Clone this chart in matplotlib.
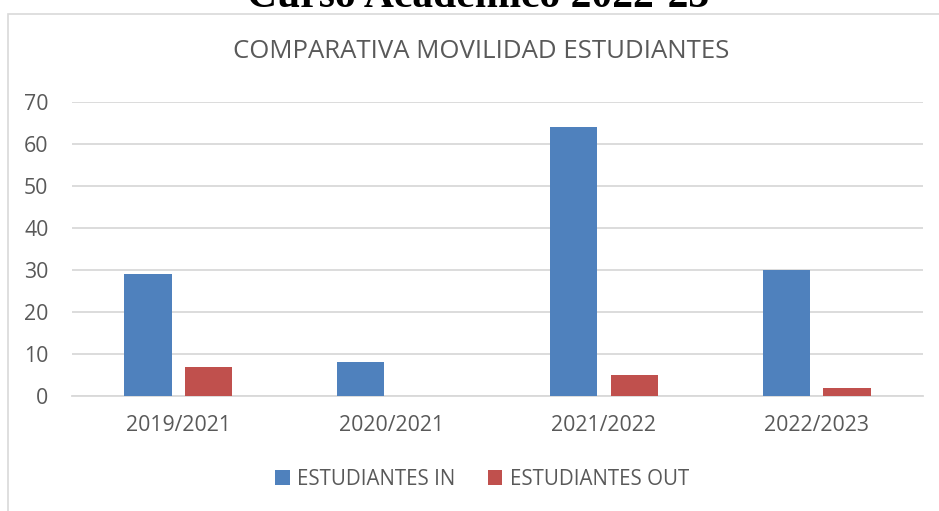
import matplotlib
matplotlib.use("Agg")
import matplotlib.pyplot as plt
import numpy as np
from matplotlib.patches import Rectangle

# data
cursos = ["2019/2021", "2020/2021", "2021/2022", "2022/2023"]
estudiantes_in = [29, 8, 64, 30]
estudiantes_out = [7, 0, 5, 2]

BLUE = "#4F81BD"
RED = "#C0504D"
GRID = "#D9D9D9"
TEXT = "#595959"
W, H = 939, 511

plt.rcParams["font.family"] = ["Open Sans", "DejaVu Sans"]

fig = plt.figure(figsize=(W / 100, H / 100), dpi=100)

# chart frame (bleeds off the right and bottom)
fig.patches.append(Rectangle((7.5 / W, -0.1), 1.0, 1 - 13.5 / H + 0.1,
                             transform=fig.transFigure, fill=False,
                             edgecolor=GRID, linewidth=1.2))

# header of the page, cut off at the top as in the source
fig.text(478 / W, 1 - 7 / H, "Curso Académico 2022-23", ha="center", va="baseline",
         family="Liberation Serif", weight="bold", fontsize=30, color="black")

ax = fig.add_axes([72 / W, 1 - 396 / H, (923 - 72) / W, (396 - 102) / H])
x = np.arange(len(cursos))
bw = 0.222
ax.bar(x - 0.143, estudiantes_in, bw, color=BLUE, label="ESTUDIANTES IN", zorder=3)
ax.bar(x + 0.143, estudiantes_out, bw, color=RED, label="ESTUDIANTES OUT", zorder=3)

ax.set_xlim(-0.5, len(cursos) - 0.5)
ax.set_ylim(0, 70)
ax.set_yticks(range(0, 71, 10))
ax.set_xticks(x)
ax.set_xticklabels(cursos)
ax.yaxis.grid(True, color=GRID, linewidth=1.3, zorder=0)
ax.set_axisbelow(True)
for s in ax.spines.values():
    s.set_visible(False)
ax.tick_params(length=0, labelsize=15.3, labelcolor=TEXT)
ax.tick_params(axis="y", pad=17)
ax.tick_params(axis="x", pad=14)
ax.axhline(0, color=GRID, linewidth=1.3, zorder=1, clip_on=False)

fig.text(481 / W, 1 - 52 / H, "COMPARATIVA MOVILIDAD ESTUDIANTES", ha="center", va="center",
         fontsize=18.5, color=TEXT)

fig.legend(loc="center", bbox_to_anchor=(482 / W, 1 - 479 / H), ncol=2, frameon=False,
           fontsize=14.8, labelcolor=TEXT, handlelength=0.7, handleheight=0.7,
           handletextpad=0.35, columnspacing=1.6)

fig.savefig("out.png", dpi=100)
